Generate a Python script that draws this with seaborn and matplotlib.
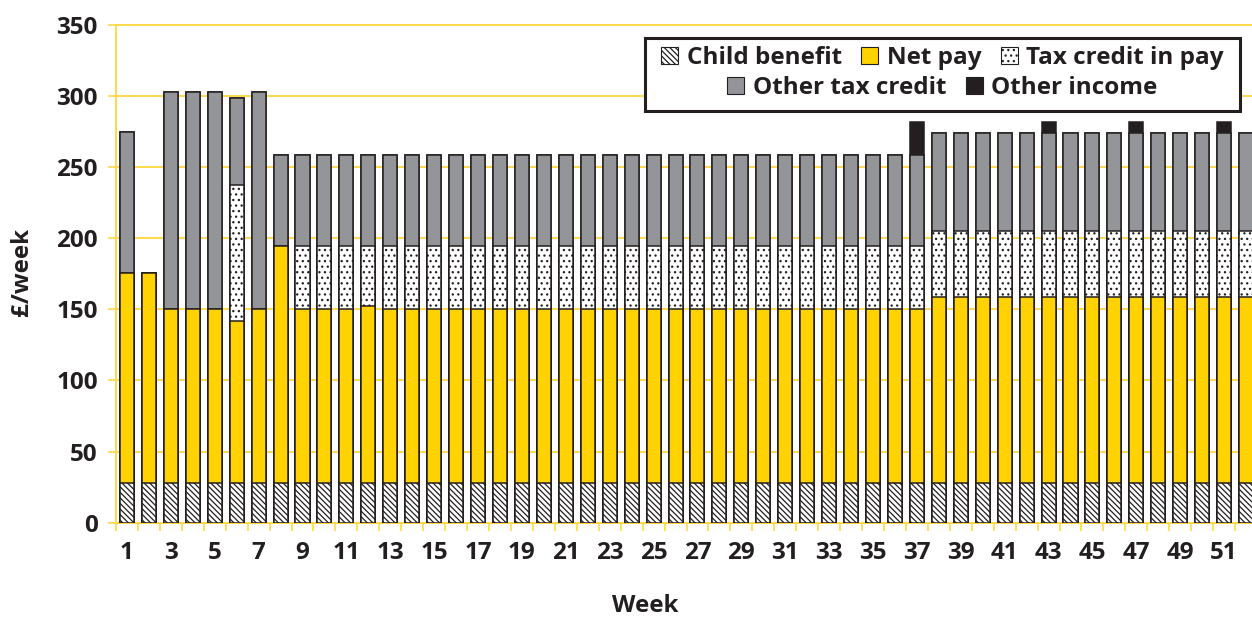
import matplotlib
matplotlib.use("Agg")
import matplotlib.pyplot as plt
from matplotlib.patches import Patch, Rectangle
import numpy as np
import pandas as pd
import seaborn as sns

# ---------------- data ----------------
weeks = list(range(1, 53))
tick_labels = [str(w) for w in range(1, 52, 2)]

child_benefit = [27.7, 27.7, 27.7, 27.7, 27.7, 27.7, 27.7, 27.7, 27.7, 27.7,
                 27.7, 27.7, 27.7, 27.7, 27.7, 27.7, 27.7, 27.7, 27.7, 27.7,
                 27.7, 27.7, 27.7, 27.7, 27.7, 27.7, 27.7, 27.7, 27.7, 27.7,
                 27.7, 27.7, 27.7, 27.7, 27.7, 27.7, 27.7, 27.7, 27.7, 27.7,
                 27.7, 27.7, 27.7, 27.7, 27.7, 27.7, 27.7, 27.7, 27.7, 27.7,
                 27.7, 27.7]
net_pay = [147.9, 147.9, 122.3, 122.3, 122.3, 113.8, 122.3, 166.5, 122.3, 122.3,
           122.3, 124.3, 122.3, 122.3, 122.3, 122.3, 122.3, 122.3, 122.3, 122.3,
           122.3, 122.3, 122.3, 122.3, 122.3, 122.3, 122.3, 122.3, 122.3, 122.3,
           122.3, 122.3, 122.3, 122.3, 122.3, 122.3, 122.3, 130.7, 130.7, 130.7,
           130.7, 130.7, 130.7, 130.7, 130.7, 130.7, 130.7, 130.7, 130.7, 130.7,
           130.7, 130.7]
tax_credit_in_pay = [0, 0, 0, 0, 0, 95.8, 0, 0, 44.3, 44.3,
                     44.3, 42.3, 44.3, 44.3, 44.3, 44.3, 44.3, 44.3, 44.3, 44.3,
                     44.3, 44.3, 44.3, 44.3, 44.3, 44.3, 44.3, 44.3, 44.3, 44.3,
                     44.3, 44.3, 44.3, 44.3, 44.3, 44.3, 44.3, 46.8, 46.8, 46.8,
                     46.8, 46.8, 46.8, 46.8, 46.8, 46.8, 46.8, 46.8, 46.8, 46.8,
                     46.8, 46.8]
other_tax_credit = [98.7, 0, 152.6, 152.6, 152.6, 60.9, 152.6, 63.9, 63.8, 63.8,
                    63.8, 63.8, 63.8, 63.8, 63.8, 63.8, 63.8, 63.8, 63.8, 63.8,
                    63.8, 63.8, 63.8, 63.8, 63.8, 63.8, 63.8, 63.8, 63.8, 63.8,
                    63.8, 63.8, 63.8, 63.8, 63.8, 63.8, 63.8, 68.8, 68.8, 68.8,
                    68.8, 68.8, 68.8, 68.8, 68.8, 68.8, 68.8, 68.8, 68.8, 68.8,
                    68.8, 68.8]
other_income = [0, 0, 0, 0, 0, 0, 0, 0, 0, 0,
                0, 0, 0, 0, 0, 0, 0, 0, 0, 0,
                0, 0, 0, 0, 0, 0, 0, 0, 0, 0,
                0, 0, 0, 0, 0, 0, 23.4, 0, 0, 0,
                0, 0, 7.5, 0, 0, 0, 7.5, 0, 0, 0,
                7.5, 0]

series_names = ["Child benefit", "Net pay", "Tax credit in pay",
                "Other tax credit", "Other income"]

# ---------------- style ----------------
YELLOW = "#FFD200"
GRID = "#FFD84A"
GREY = "#939598"
DARK = "#231F20"
FS = 17.5

sns.set_theme(style="white")
plt.rcParams["font.family"] = ["Open Sans", "DejaVu Sans"]
plt.rcParams["font.weight"] = "bold"
plt.rcParams["hatch.linewidth"] = 0.9
plt.rcParams["hatch.color"] = DARK
plt.rcParams["text.color"] = DARK

fig = plt.figure(figsize=(12.52, 6.19), dpi=100)
ax = fig.add_axes([116 / 1252, 96.3 / 619, 1141 / 1252, 498.2 / 619])

layers = [child_benefit, net_pay, tax_credit_in_pay, other_tax_credit, other_income]
cum = np.cumsum(np.array(layers, dtype=float), axis=0)

styles = [
    dict(color="white", hatch="\\\\\\\\\\\\"),
    dict(color=YELLOW, hatch=None),
    dict(color="white", hatch="..."),
    dict(color=GREY, hatch=None),
    dict(color=DARK, hatch=None),
]

# draw cumulative totals from top layer down so lower layers overlay
for i in range(4, -1, -1):
    df = pd.DataFrame({"week": weeks, "value": cum[i]})
    st = styles[i]
    kw = dict(hatch=st["hatch"]) if st["hatch"] else {}
    sns.barplot(data=df, x="week", y="value", ax=ax, color=st["color"],
                saturation=1, width=0.64, edgecolor=DARK, linewidth=1.1,
                zorder=3, **kw)

ax.set_xlim(-0.5, 51.5)
ax.set_ylim(0, 350)
ax.set_yticks(np.arange(0, 351, 50))
ax.yaxis.grid(True, color=GRID, linewidth=1.4, zorder=0)
ax.xaxis.grid(False)
ax.set_axisbelow(True)
for gl in ax.get_ygridlines():
    gl.set_clip_on(False)

ax.set_xticks(np.arange(0, 52, 2))
ax.set_xticklabels(tick_labels)
ax.set_xticks(np.arange(-0.5, 52, 1), minor=True)
ax.tick_params(axis="x", which="major", length=0, pad=13, labelsize=FS, labelcolor=DARK)
ax.tick_params(axis="x", which="minor", length=6, width=1.2, color=GRID, bottom=True)
ax.tick_params(axis="y", which="major", length=6, width=1.2, color=GRID, left=True,
               pad=7, labelsize=FS, labelcolor=DARK)
for lab in ax.get_xticklabels() + ax.get_yticklabels():
    lab.set_fontweight("bold")

for s in ["top", "right"]:
    ax.spines[s].set_visible(False)
for s in ["left", "bottom"]:
    ax.spines[s].set_color(GRID)
    ax.spines[s].set_linewidth(1.4)

ax.set_xlabel("")
ax.set_ylabel("")
fig.text(645 / 1252, 1 - 606 / 619, "Week", ha="center", va="center",
         fontsize=FS, fontweight="bold", color=DARK)
fig.text(22 / 1252, 1 - 272 / 619, "£/week", ha="center", va="center",
         rotation=90, fontsize=FS, fontweight="bold", color=DARK)

# ---------------- legend (two centred rows inside one frame) ----------------
handles = []
for name, st in zip(series_names, styles):
    handles.append(Patch(facecolor=st["color"], edgecolor=DARK, linewidth=0.8,
                         hatch=st["hatch"], label=name))

common = dict(frameon=False, handlelength=0.7, handleheight=0.7,
              handletextpad=0.35, columnspacing=0.8, borderpad=0,
              prop=dict(weight="bold", size=FS))
leg1 = fig.legend(handles=handles[:3], ncol=3, loc="center",
                  bbox_to_anchor=(0.7528, 1 - 58 / 619), **common)
leg2 = fig.legend(handles=handles[3:], ncol=2, loc="center",
                  bbox_to_anchor=(0.7528, 1 - 88 / 619), **common)
for lg in (leg1, leg2):
    for t in lg.get_texts():
        t.set_color(DARK)

fig.patches.append(Rectangle((645 / 1252, 1 - 111 / 619), 595 / 1252, 73 / 619,
                             transform=fig.transFigure, facecolor="white",
                             edgecolor=DARK, linewidth=2.2, zorder=2))
leg1.set_zorder(5)
leg2.set_zorder(5)

fig.savefig("out.png", dpi=100)
